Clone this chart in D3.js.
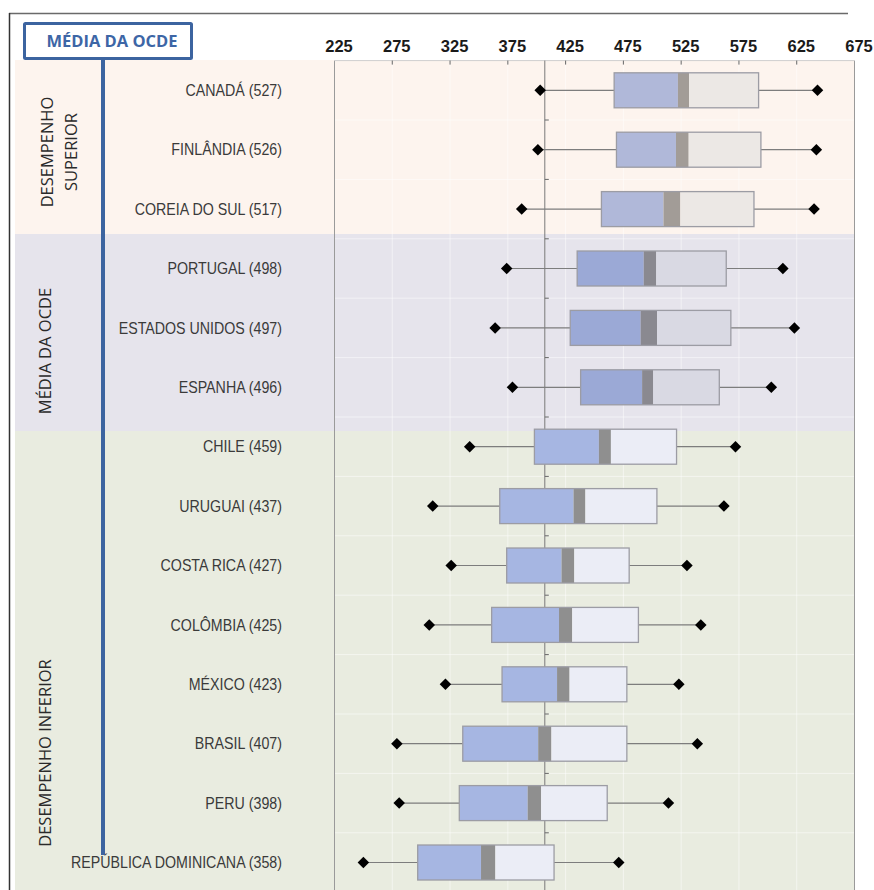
<!DOCTYPE html>
<html>
<head>
<meta charset="utf-8">
<script src="https://cdn.jsdelivr.net/npm/d3@7/dist/d3.min.js"></script>
<style>
  html, body { margin: 0; padding: 0; background: #ffffff; }
  svg { display: block; }
</style>
</head>
<body>
<div id="chart"></div>
<script>
// Countries in display order, with their mean scores
const countries = ["CANADÁ", "FINLÂNDIA", "COREIA DO SUL", "PORTUGAL", "ESTADOS UNIDOS", "ESPANHA",
  "CHILE", "URUGUAI", "COSTA RICA", "COLÔMBIA", "MÉXICO", "BRASIL", "PERU", "REPÚBLICA DOMINICANA"];
const means   = [527, 526, 517, 498, 497, 496, 459, 437, 427, 425, 423, 407, 398, 358];
// Half-width of the confidence band drawn around each mean
const ciHalf  = [4.8, 5.5, 7.3, 5.4, 7.1, 4.8, 5.2, 5.1, 5.5, 5.7, 5.4, 5.7, 5.8, 6.2];
// Percentiles of the score distribution
const p5  = [403, 401, 387, 374, 364, 379, 342, 310, 326, 307, 321, 279, 281, 250];
const p25 = [467, 469, 456, 435, 429, 438, 398, 368, 374, 361, 370, 336, 333, 297];
const p75 = [592, 594, 588, 564, 568, 558, 521, 504, 480, 488, 478, 478, 461, 415];
const p95 = [643, 642, 640, 613, 623, 603, 572, 562, 530, 542, 523, 539, 514, 471];
// Group of each country (0 = superior, 1 = OECD average, 2 = inferior)
const groupOf = [0, 0, 0, 1, 1, 1, 2, 2, 2, 2, 2, 2, 2, 2];
const groupLabels = [["DESEMPENHO", "SUPERIOR"], ["MÉDIA DA OCDE"], ["DESEMPENHO INFERIOR"]];
const legendLabel = "MÉDIA DA OCDE";
// Reference line: Brazil's mean
const refValue = 407;
const tickValues = [225, 275, 325, 375, 425, 475, 525, 575, 625, 675];

// Colours per group
const zoneFill  = ["#fdf4ee", "#e6e4ec", "#e9ece0"];
const lowFill   = ["#b0b8d9", "#9ba9d6", "#a6b6e2"];
const bandFill  = ["#a29c97", "#8a8990", "#8f8f8f"];
const highFill  = ["#ece8e5", "#d9d9e3", "#ebedf6"];

const W = 874, H = 890;
const svg = d3.select("#chart").append("svg").attr("width", W).attr("height", H);
svg.append("rect").attr("width", W).attr("height", H).attr("fill", "#ffffff");

const plotLeft = 334.5, plotRight = 854.5, plotTop = 60.6;
const rowStep = 59.4;

const x = d3.scaleLinear().domain([225, 675]).range([plotLeft, plotRight]);
const y = d3.scaleBand().domain(d3.range(countries.length))
  .range([plotTop, plotTop + rowStep * countries.length]).paddingInner(0).paddingOuter(0);

// Background zones (label column + plot)
const zoneEdges = [60, 234, 431, H];
zoneFill.forEach((c, i) => {
  svg.append("rect").attr("x", 15).attr("y", zoneEdges[i])
    .attr("width", plotRight - 15).attr("height", zoneEdges[i + 1] - zoneEdges[i])
    .attr("fill", c);
});

// Faint gridlines
const grid = svg.append("g").attr("stroke", "#ffffff").attr("stroke-opacity", 0.5).attr("stroke-width", 1);
tickValues.slice(1, -1).forEach(v => {
  grid.append("line").attr("x1", x(v)).attr("x2", x(v)).attr("y1", plotTop).attr("y2", H);
});
d3.range(1, countries.length).forEach(i => {
  grid.append("line").attr("x1", plotLeft).attr("x2", plotRight)
    .attr("y1", y(i)).attr("y2", y(i));
});

// Outer frame of the figure
svg.append("line").attr("x1", 9).attr("x2", 848).attr("y1", 13.5).attr("y2", 13.5)
  .attr("stroke", "#6a6a6a").attr("stroke-width", 1.5);
svg.append("line").attr("x1", 9.5).attr("x2", 9.5).attr("y1", 13).attr("y2", H)
  .attr("stroke", "#333").attr("stroke-width", 1.5);

// Plot borders
svg.append("line").attr("x1", plotLeft).attr("x2", plotLeft).attr("y1", plotTop).attr("y2", H)
  .attr("stroke", "#9a9a9a");
svg.append("line").attr("x1", plotRight).attr("x2", plotRight).attr("y1", plotTop).attr("y2", H)
  .attr("stroke", "#9a9a9a");
svg.append("line").attr("x1", plotLeft).attr("x2", plotRight).attr("y1", plotTop).attr("y2", plotTop)
  .attr("stroke", "#cfcfcf");

// Top axis
const axis = d3.axisTop(x).tickValues(tickValues).tickSize(0).tickPadding(0);
const axG = svg.append("g").attr("transform", `translate(0, 52)`).call(axis);
axG.select(".domain").remove();
axG.selectAll("text")
  .attr("dx", 4)
  .attr("font-family", "'Liberation Sans', Arial, sans-serif")
  .attr("font-weight", "bold").attr("font-size", 16.5).attr("fill", "#1a1a1a");
// small tick marks hanging from the top border
tickValues.slice(1, -1).forEach(v => {
  svg.append("line").attr("x1", x(v)).attr("x2", x(v)).attr("y1", plotTop).attr("y2", plotTop + 4)
    .attr("stroke", "#666");
});

// Reference line with row tick marks
svg.append("line").attr("x1", x(refValue)).attr("x2", x(refValue)).attr("y1", plotTop).attr("y2", H)
  .attr("stroke", "#7a7a7a").attr("stroke-width", 1);

// Boxes
const half = 17.5;
const rows = svg.append("g");
const diamond = d3.symbol(d3.symbolSquare, 66);
countries.forEach((name, i) => {
  const g = groupOf[i];
  const cy = y(i) + y.bandwidth() / 2;
  const lo = means[i] - ciHalf[i], hi = means[i] + ciHalf[i];
  const row = rows.append("g");
  row.append("line").attr("x1", x(p5[i])).attr("x2", x(p25[i])).attr("y1", cy).attr("y2", cy)
    .attr("stroke", "#7d7d7d").attr("stroke-width", 1.2);
  row.append("line").attr("x1", x(p75[i])).attr("x2", x(p95[i])).attr("y1", cy).attr("y2", cy)
    .attr("stroke", "#7d7d7d").attr("stroke-width", 1.2);
  row.append("rect").attr("x", x(p25[i])).attr("y", cy - half)
    .attr("width", x(lo) - x(p25[i])).attr("height", 2 * half).attr("fill", lowFill[g]);
  row.append("rect").attr("x", x(lo)).attr("y", cy - half)
    .attr("width", x(hi) - x(lo)).attr("height", 2 * half).attr("fill", bandFill[g]);
  row.append("rect").attr("x", x(hi)).attr("y", cy - half)
    .attr("width", x(p75[i]) - x(hi)).attr("height", 2 * half).attr("fill", highFill[g]);
  row.append("rect").attr("x", x(p25[i])).attr("y", cy - half)
    .attr("width", x(p75[i]) - x(p25[i])).attr("height", 2 * half)
    .attr("fill", "none").attr("stroke", "#9c9ca4").attr("stroke-width", 1.3);
  [p5[i], p95[i]].forEach(v => {
    row.append("path").attr("d", diamond())
      .attr("transform", `translate(${x(v)},${cy}) rotate(45)`).attr("fill", "#000");
  });
  // country label
  svg.append("text")
    .attr("transform", `translate(282, ${cy}) scale(0.89, 1)`)
    .attr("text-anchor", "end").attr("dy", "0.36em")
    .attr("font-family", "'Liberation Sans', Arial, sans-serif").attr("font-size", 16)
    .attr("fill", "#3a3a3a")
    .text(`${name} (${means[i]})`);
});

// Row ticks on the reference line
d3.range(1, countries.length).forEach(i => {
  svg.append("line").attr("x1", x(refValue)).attr("x2", x(refValue) + 4)
    .attr("y1", y(i)).attr("y2", y(i)).attr("stroke", "#666");
});

// Group labels (rotated)
const groupCenters = [152, 351, 753];
const groupFont = "'Open Sans', 'Noto Sans', sans-serif";
groupLabels.forEach((lines, gi) => {
  const n = lines.length;
  lines.forEach((t, li) => {
    const cx = n === 1 ? 45 : 47 + li * 24;
    svg.append("text")
      .attr("transform", `translate(${cx}, ${groupCenters[gi]}) rotate(-90)`)
      .attr("text-anchor", "middle").attr("dy", "0.36em")
      .attr("font-family", groupFont).attr("font-size", 16.5).attr("fill", "#2a2a2a")
      .text(t);
  });
});

// Legend box with connector line
const blue = "#3c64a0";
svg.append("line").attr("x1", 103).attr("x2", 103).attr("y1", 58).attr("y2", 855)
  .attr("stroke", blue).attr("stroke-width", 4);
svg.append("rect").attr("x", 24.5).attr("y", 23.5).attr("width", 167).attr("height", 35)
  .attr("fill", "#ffffff").attr("stroke", blue).attr("stroke-width", 3).attr("rx", 1);
svg.append("text").attr("x", 112).attr("y", 41).attr("dy", "0.36em")
  .attr("text-anchor", "middle")
  .attr("font-family", groupFont).attr("font-weight", 700).attr("font-size", 16.5)
  .attr("fill", "#3d66a6")
  .text(legendLabel);
</script>
</body>
</html>
